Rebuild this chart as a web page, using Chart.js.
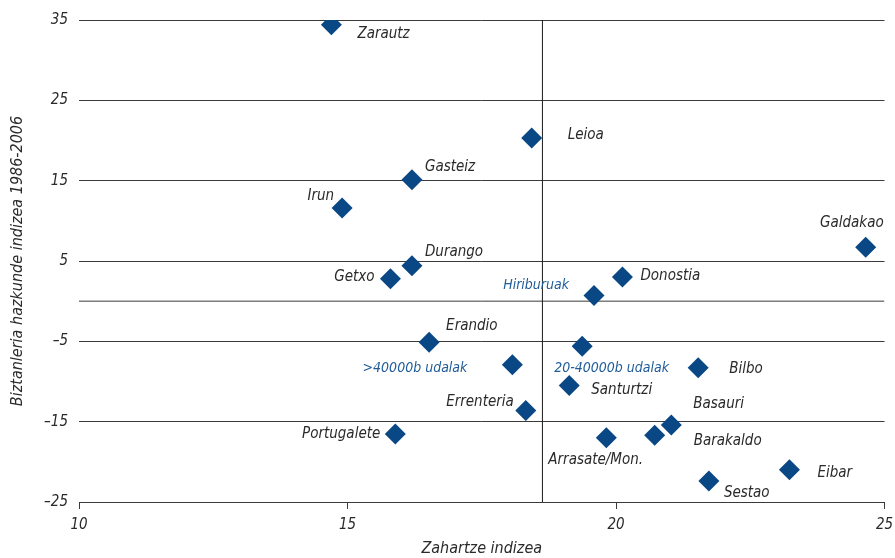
<!DOCTYPE html>
<html>
<head>
<meta charset="utf-8">
<script src="https://cdn.jsdelivr.net/npm/chart.js@4/dist/chart.umd.min.js"></script>
<style>
  html, body { margin: 0; padding: 0; background: #fff; }
  #wrap { width: 895px; height: 558px; position: relative; }
</style>
</head>
<body>
<div id="wrap"><canvas id="c" width="895" height="558"></canvas></div>
<script>
// ---- data ----
const municipalities = ["Zarautz","Leioa","Gasteiz","Irun","Durango","Getxo","Galdakao","Donostia","Hiriburuak","Erandio","20-40000b udalak",">40000b udalak","Bilbo","Santurtzi","Errenteria","Basauri","Barakaldo","Arrasate/Mon.","Portugalete","Eibar","Sestao"];
const agingIndex     = [14.7, 18.43, 16.2, 14.9, 16.2, 15.8, 24.65, 20.12, 19.59, 16.52, 19.37, 18.07, 21.53, 19.13, 18.32, 21.03, 20.72, 19.82, 15.89, 23.23, 21.73];
const growthIndex    = [34.4, 20.3, 15.1, 11.6, 4.4, 2.8, 6.7, 3.0, 0.7, -5.1, -5.6, -7.9, -8.3, -10.5, -13.6, -15.4, -16.7, -17.0, -16.55, -21.0, -22.4];
const isGroupLabel   = [false,false,false,false,false,false,false,false,true,false,true,true,false,false,false,false,false,false,false,false,false];
const xTicks = [10, 15, 20, 25];
const yTicks = [-25, -15, -5, 5, 15, 25, 35];
const meanAging = 18.63;
const zeroGrowth = 0;

// ---- label placement (layout only) ----
const labelLayout = [
  {dx: 26, dy: 9, align: 'left'},     // Zarautz
  {dx: 36, dy: -3, align: 'left'},    // Leioa
  {dx: 13, dy: -13, align: 'left'},   // Gasteiz
  {dx: -8, dy: -12, align: 'right'},  // Irun
  {dx: 13, dy: -14, align: 'left'},   // Durango
  {dx: -16, dy: -2, align: 'right'},  // Getxo
  {dx: 18, dy: -24, align: 'right'},  // Galdakao
  {dx: 18, dy: -1, align: 'left'},    // Donostia
  {dx: -25, dy: -10, align: 'right'}, // Hiriburuak
  {dx: 17, dy: -16, align: 'left'},   // Erandio
  {dx: -28, dy: 22, align: 'left'},   // 20-40000b udalak
  {dx: -45, dy: 4, align: 'right'},   // >40000b udalak
  {dx: 31, dy: 1, align: 'left'},     // Bilbo
  {dx: 22, dy: 5, align: 'left'},     // Santurtzi
  {dx: -12, dy: -8, align: 'right'},  // Errenteria
  {dx: 22, dy: -21, align: 'left'},   // Basauri
  {dx: 39, dy: 6, align: 'left'},     // Barakaldo
  {dx: -58, dy: 22, align: 'left'},   // Arrasate/Mon.
  {dx: -15, dy: 0, align: 'right'},   // Portugalete
  {dx: 28, dy: 3, align: 'left'},     // Eibar
  {dx: 15, dy: 12, align: 'left'}     // Sestao
];

const FONT = "'Liberation Sans Narrow', 'DejaVu Sans Condensed', 'Roboto Condensed', 'Liberation Sans', sans-serif";
const TEXT = '#2a2a2a';
const BLUE = '#1f5c99';
const MARK = '#0a4785';

const points = agingIndex.map((x, i) => ({x: x, y: growthIndex[i]}));

const labelPlugin = {
  id: 'pointLabels',
  afterDatasetsDraw(chart) {
    const meta = chart.getDatasetMeta(2);
    const ctx = chart.ctx;
    ctx.save();
    ctx.textBaseline = 'middle';
    meta.data.forEach((el, i) => {
      const L = labelLayout[i];
      const grp = isGroupLabel[i];
      ctx.font = 'italic ' + (grp ? '14px ' : '15px ') + FONT;
      ctx.fillStyle = grp ? BLUE : TEXT;
      ctx.textAlign = L.align;
      ctx.fillText(municipalities[i], el.x + L.dx, el.y + L.dy);
    });
    ctx.restore();
  }
};

const fmt = v => (v < 0 ? '\u2013' + Math.abs(v) : String(v));

new Chart(document.getElementById('c'), {
  type: 'scatter',
  data: {
    datasets: [
      {
        type: 'line',
        data: [{x: xTicks[0], y: zeroGrowth}, {x: xTicks[xTicks.length - 1], y: zeroGrowth}],
        borderColor: '#3a3a3a', borderWidth: 1, pointRadius: 0, fill: false, order: 3
      },
      {
        type: 'line',
        data: [{x: meanAging, y: yTicks[0]}, {x: meanAging, y: yTicks[yTicks.length - 1]}],
        borderColor: '#1a1a1a', borderWidth: 1, pointRadius: 0, fill: false, order: 2
      },
      {
        data: points,
        pointStyle: 'rectRot',
        pointRadius: 10.5,
        pointHoverRadius: 10.5,
        backgroundColor: MARK,
        borderColor: MARK,
        borderWidth: 0,
        order: 1
      }
    ]
  },
  options: {
    responsive: false,
    animation: false,
    events: [],
    layout: { padding: { top: 19, right: 8, left: 0, bottom: 0 } },
    plugins: { legend: { display: false }, tooltip: { enabled: false } },
    scales: {
      x: {
        type: 'linear',
        min: xTicks[0], max: xTicks[xTicks.length - 1],
        afterBuildTicks: s => { s.ticks = xTicks.map(v => ({value: v})); },
        afterFit: s => {
          s.height = 56; s.paddingRight = 0; s.paddingLeft = 0;
          if (s._margins) { s._margins.right = 0; s._margins.left = 0; }
        },
        grid: { drawOnChartArea: false, drawTicks: true, tickLength: 7, color: '#3a3a3a', lineWidth: 1 },
        border: { display: true, color: '#3a3a3a', width: 1 },
        ticks: { color: TEXT, font: { family: FONT, size: 15, style: 'italic' }, padding: 7, callback: v => fmt(v) },
        title: { display: true, text: 'Zahartze indizea', color: TEXT, font: { family: FONT, size: 16, style: 'italic' }, padding: { top: 4, bottom: 0 } }
      },
      y: {
        type: 'linear',
        min: yTicks[0], max: yTicks[yTicks.length - 1],
        afterBuildTicks: s => { s.ticks = yTicks.map(v => ({value: v})); },
        afterFit: s => { s.width = 79; },
        grid: { drawOnChartArea: true, drawTicks: false, color: '#3a3a3a', lineWidth: 1 },
        border: { display: false },
        ticks: { color: TEXT, font: { family: FONT, size: 15, style: 'italic' }, padding: 11, callback: v => fmt(v) },
        title: { display: true, text: 'Biztanleria hazkunde indizea 1986-2006', color: TEXT, font: { family: FONT, size: 16, style: 'italic' }, padding: { top: 8, bottom: 4 } }
      }
    }
  },
  plugins: [labelPlugin]
});
</script>
</body>
</html>
